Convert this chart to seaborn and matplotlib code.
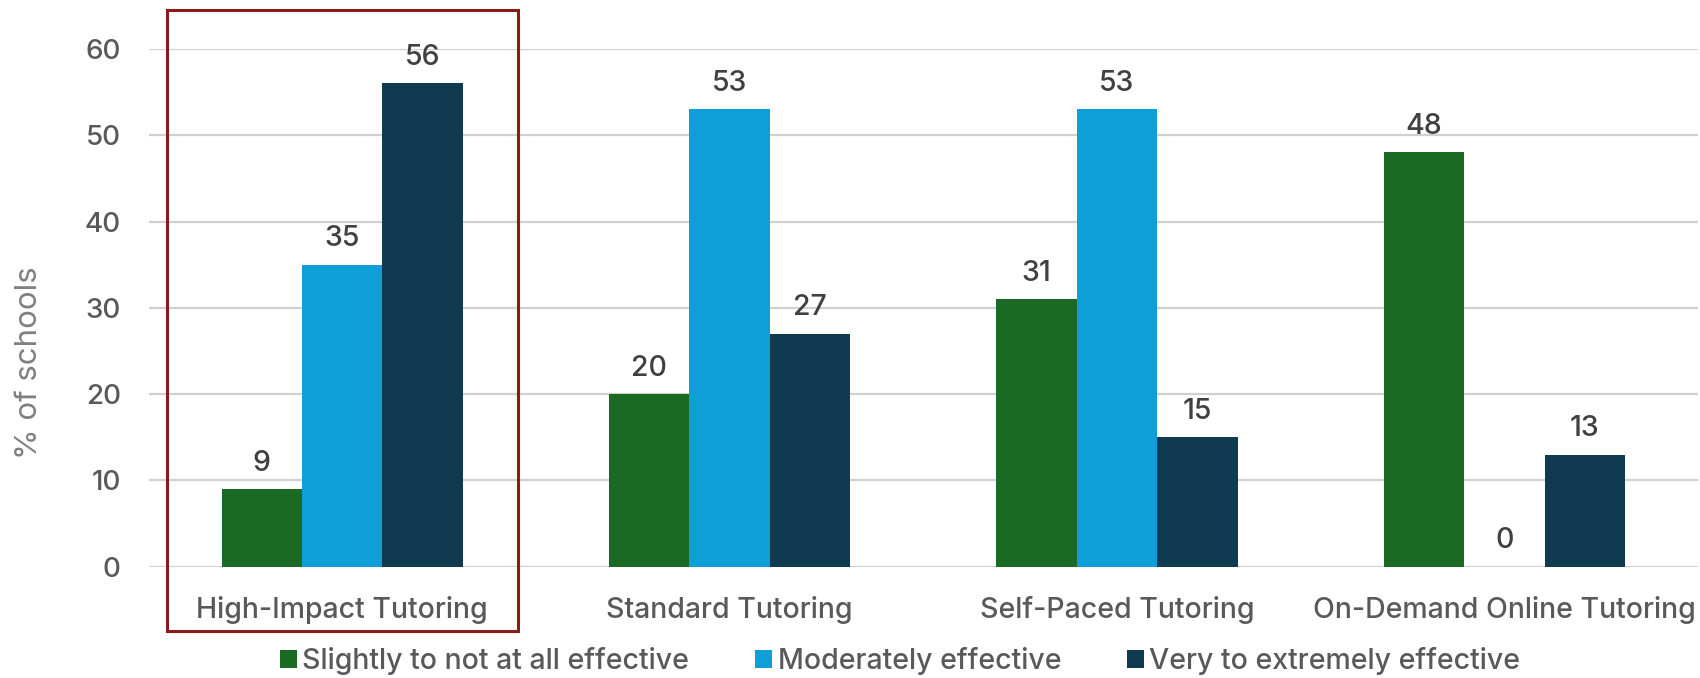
import matplotlib
matplotlib.use("Agg")
import matplotlib.pyplot as plt
from matplotlib.patches import Rectangle
import seaborn as sns
import pandas as pd

# Survey data: share of schools rating each tutoring approach
approaches = ["High-Impact Tutoring", "Standard Tutoring",
              "Self-Paced Tutoring", "On-Demand Online Tutoring"]
ratings = ["Slightly to not at all effective", "Moderately effective",
           "Very to extremely effective"]
slightly = [9, 20, 31, 48]
moderately = [35, 53, 53, 0]
very = [56, 27, 15, 13]
yticks = [0, 10, 20, 30, 40, 50, 60]

colors = ["#1B6A24", "#109ED6", "#0F3A50"]

rows = []
for series, values in zip(ratings, [slightly, moderately, very]):
    for approach, v in zip(approaches, values):
        rows.append({"approach": approach, "rating": series, "pct": v})
df = pd.DataFrame(rows)

sns.set_theme(style="white")
FONT = ["Inter", "DejaVu Sans"]
plt.rcParams["font.family"] = FONT
plt.rcParams["font.weight"] = "medium"

W, H = 1700, 678
fig = plt.figure(figsize=(W / 100, H / 100), dpi=100)
ax = fig.add_axes([148.5 / W, 1 - 566.8 / H, (1698 - 148.5) / W, (566.8 - 48.9) / H])

sns.barplot(data=df, x="approach", y="pct", hue="rating", order=approaches,
            hue_order=ratings, palette=colors, saturation=1, width=0.623,
            gap=0, linewidth=0, ax=ax, legend=True)

ax.set_xlim(-0.5, 3.5)
ax.set_ylim(0, 60)
ax.set_yticks(yticks)
ax.yaxis.grid(True, color="#D0D0D0", linewidth=1.6)
ax.set_axisbelow(True)
for s in ax.spines.values():
    s.set_visible(False)

ax.tick_params(axis="y", length=0, pad=20, labelsize=20, labelcolor="#595959")
ax.tick_params(axis="x", length=0, pad=21, labelsize=20.5, labelcolor="#595959")
ax.set_xlabel("")
ax.set_ylabel("% of schools", fontsize=22.5, color="#7F7F7F")
ax.yaxis.label.set_va("center")
ax.yaxis.set_label_coords((28.7 - 148.5) / (1698 - 148.5), 0.395)

for cont in ax.containers:
    labels = ax.bar_label(cont, fmt="%d", padding=9, fontsize=20.5, color="#404040")
    for t in labels:
        t.set_clip_on(False)

leg = ax.legend(loc="center", bbox_to_anchor=(900 / W, 1 - 661 / H),
                bbox_transform=fig.transFigure, ncol=3, frameon=False,
                fontsize=20.5, handlelength=0.6, handleheight=0.6,
                handletextpad=0.2, columnspacing=2.3, borderpad=0)
for t in leg.get_texts():
    t.set_color("#595959")

# Highlight box around the first group
fig.patches.append(Rectangle((166.5 / W, 1 - 631 / H), (517.8 - 166.5) / W,
                             (631 - 9.5) / H, transform=fig.transFigure,
                             fill=False, edgecolor="#8B1A1A", linewidth=2.2))

fig.savefig("out.png", dpi=100, facecolor="white")
